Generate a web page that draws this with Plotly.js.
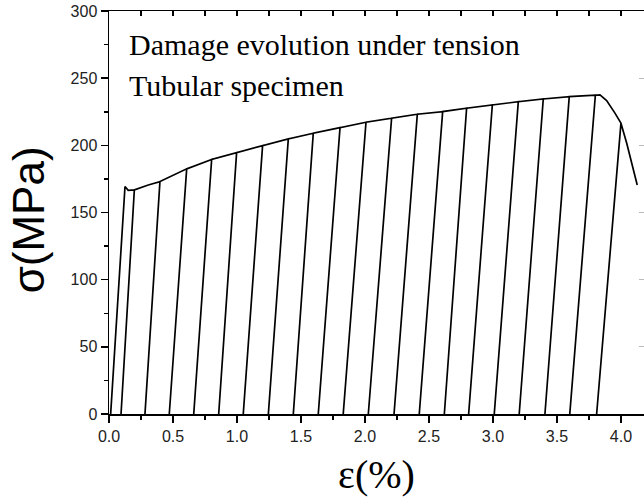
<!DOCTYPE html>
<html>
<head>
<meta charset="utf-8">
<script src="https://cdn.plot.ly/plotly-3.0.1.min.js"></script>
<style>
html,body{margin:0;padding:0;background:#fff;}
#chart{width:644px;height:501px;}
</style>
</head>
<body>
<div id="chart"></div>
<script>
// Initial monotonic loading (strain %, stress MPa)
const initStrain = [0.013, 0.125, 0.150];
const initStress = [0, 169.3, 166.5];

// Peaks at which each unloading starts
const peakStrain = [0.198, 0.398, 0.607, 0.802, 0.997, 1.200, 1.401, 1.596, 1.805, 2.008,
                    2.208, 2.409, 2.607, 2.794, 2.995, 3.198, 3.393, 3.596, 3.800, 4.000];
const peakStress = [166.8, 173.0, 182.5, 189.5, 194.6, 199.8, 204.8, 209.0, 213.2, 217.2,
                    220.2, 223.2, 225.1, 227.6, 230.0, 232.5, 234.5, 236.3, 237.3, 216.5];
// Residual strain after each unloading (stress = 0)
const residualStrain = [0.094, 0.281, 0.471, 0.662, 0.857, 1.049, 1.245, 1.440, 1.635, 1.830,
                        2.026, 2.227, 2.424, 2.620, 2.810, 3.010, 3.205, 3.406, 3.600, 3.810];

// Extra envelope points (softening near failure)
const envStrain = [0.307, 3.836, 3.888, 3.953];
const envStress = [170.5, 237.5, 233.3, 224.0];

// Final descending tail
const tailStrain = [4.045, 4.084, 4.127];
const tailStress = [201.6, 186.7, 170.5];

const xTickVals = [0, 0.5, 1.0, 1.5, 2.0, 2.5, 3.0, 3.5, 4.0];
const xTickText = ["0.0","0.5","1.0","1.5","2.0","2.5","3.0","3.5","4.0"];
const yTickVals = [0, 50, 100, 150, 200, 250, 300];
const xTitle = "ε(%)";
const yTitle = "σ(MPa)";

// Build the path
const pts = [];
initStrain.forEach((e,i)=>pts.push({e:e, s:initStress[i], k:-1}));
peakStrain.forEach((e,i)=>pts.push({e:e, s:peakStress[i], k:i}));
envStrain.forEach((e,i)=>pts.push({e:e, s:envStress[i], k:-1}));
tailStrain.forEach((e,i)=>pts.push({e:e, s:tailStress[i], k:-1}));
pts.sort((a,b)=>a.e-b.e);
const X = [], Y = [];
pts.forEach(p=>{
  X.push(p.e); Y.push(p.s);
  if (p.k >= 0) {
    X.push(residualStrain[p.k]); Y.push(0);
    X.push(p.e); Y.push(p.s);
  }
});

const tickFont = {family: "Liberation Sans, Arial, sans-serif", size: 16, color: "#222"};

const data = [
  {x: X, y: Y, type: "scatter", mode: "lines", line: {color: "#000", width: 1.7}, hoverinfo: "skip", showlegend: false},
  {x: [0], y: [0], xaxis: "x2", yaxis: "y2", type: "scatter", mode: "markers", marker: {opacity: 0}, hoverinfo: "skip", showlegend: false}
];

const layout = {
  width: 644, height: 501,
  margin: {l: 109, r: 0, t: 11, b: 87, pad: 0},
  paper_bgcolor: "#fff", plot_bgcolor: "#fff",
  showlegend: false,
  xaxis: {
    range: [0, 4.18], tickmode: "array", tickvals: xTickVals, ticktext: xTickText,
    ticks: "outside", ticklen: 7, tickwidth: 1.5, tickcolor: "#000",
    minor: {tickmode: "linear", tick0: 0, dtick: 0.25, ticks: "outside", ticklen: 4, tickwidth: 1.5, tickcolor: "#000", showgrid: false},
    showline: true, linecolor: "#000", linewidth: 1.5,
    showgrid: false, zeroline: false, tickfont: tickFont,
    title: {text: xTitle, font: {family: "Liberation Serif, Times New Roman, serif", size: 40, color: "#000"}, standoff: 16}
  },
  yaxis: {
    range: [0, 300], tickmode: "array", tickvals: yTickVals,
    ticks: "outside", ticklen: 7, tickwidth: 1.5, tickcolor: "#000",
    minor: {tickmode: "linear", tick0: 0, dtick: 25, ticks: "outside", ticklen: 4, tickwidth: 1.5, tickcolor: "#000", showgrid: false},
    showline: true, linecolor: "#000", linewidth: 1.5,
    showgrid: false, zeroline: false, tickfont: tickFont
  },
  xaxis2: {
    overlaying: "x", side: "top", anchor: "y2", range: [0, 4.18],
    tickmode: "linear", tick0: 0, dtick: 0.25,
    ticks: "inside", ticklen: 5, tickwidth: 1.5, tickcolor: "#000",
    showticklabels: false, showline: true, linecolor: "#000", linewidth: 1.5,
    showgrid: false, zeroline: false
  },
  yaxis2: {
    overlaying: "y", side: "right", anchor: "x2", range: [0, 300],
    tickmode: "linear", tick0: 0, dtick: 50,
    ticks: "inside", ticklen: 5, tickwidth: 1, tickcolor: "#bbb",
    showticklabels: false, showline: false, showgrid: false, zeroline: false
  },
  annotations: [
    {text: yTitle, xref: "paper", yref: "paper", x: -0.151, y: 0.481, textangle: -90,
     xanchor: "center", yanchor: "middle", showarrow: false,
     font: {family: "Liberation Sans, Arial, sans-serif", size: 44, color: "#000"}},
    {text: "Damage evolution under tension", xref: "paper", yref: "paper", x: 0.034, y: 0.918,
     xanchor: "left", yanchor: "middle", showarrow: false,
     font: {family: "Liberation Serif, Times New Roman, serif", size: 30, color: "#000"}},
    {text: "Tubular specimen", xref: "paper", yref: "paper", x: 0.034, y: 0.816,
     xanchor: "left", yanchor: "middle", showarrow: false,
     font: {family: "Liberation Serif, Times New Roman, serif", size: 30, color: "#000"}}
  ]
};

Plotly.newPlot("chart", data, layout, {displayModeBar: false, staticPlot: true});
</script>
</body>
</html>
